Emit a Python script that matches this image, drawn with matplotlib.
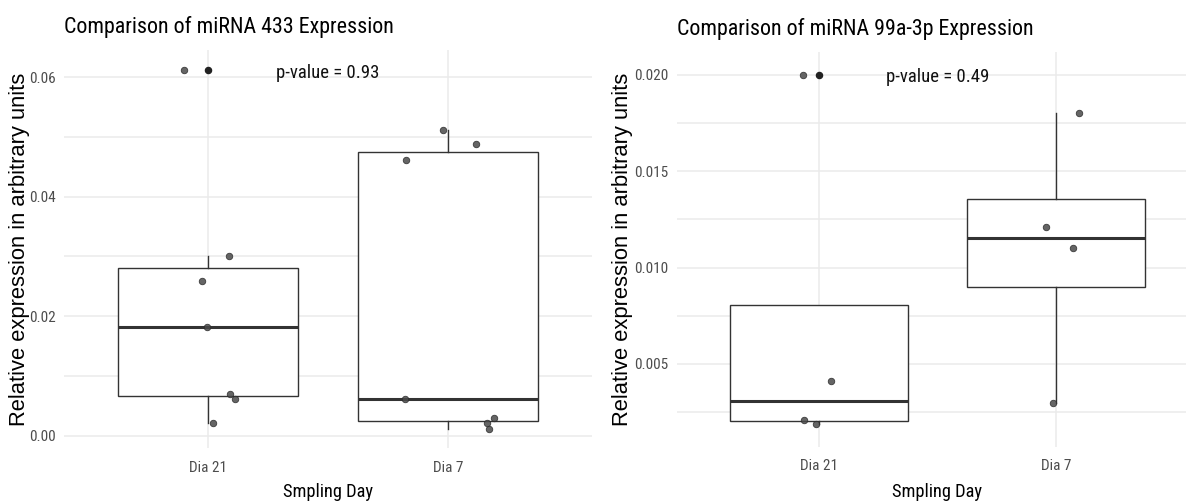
import numpy as np
import matplotlib
matplotlib.use("Agg")
import matplotlib.pyplot as plt
from matplotlib.ticker import MultipleLocator, FixedLocator

# data (box stats reconstructed from the hinges)
days = ["Dia 21", "Dia 7"]

mir433_d21 = [0.0022, 0.0062, 0.0070, 0.0182, 0.0259, 0.0301, 0.0612]
mir433_d7 = [0.0011, 0.0021, 0.0029, 0.0062, 0.0462, 0.0488, 0.0512]
mir99_d21 = [0.0019, 0.0021, 0.0041, 0.0200]
mir99_d7 = [0.0030, 0.0110, 0.0121, 0.0180]

# horizontal jitter of each point, same order as the values
jit433_d21 = [0.018, 0.11, 0.09, -0.005, -0.027, 0.086, -0.099]
jit433_d7 = [0.169, 0.163, 0.191, -0.179, -0.174, 0.118, -0.022]
jit99_d21 = [-0.013, -0.065, 0.052, -0.068]
jit99_d7 = [-0.013, 0.071, -0.041, 0.098]

titles = ["Comparison of miRNA 433 Expression", "Comparison of miRNA 99a-3p Expression"]
pvalues = ["p-value = 0.93", "p-value = 0.49"]

NARROW = ["Roboto Condensed", "Liberation Sans", "DejaVu Sans"]
REG = ["Liberation Sans", "DejaVu Sans"]

fig = plt.figure(figsize=(11.86, 5.03), dpi=100)
ax1 = fig.add_axes([0.0542, 0.1093, 0.4449, 0.7913])
ax2 = fig.add_axes([0.5707, 0.1119, 0.4394, 0.7853])


def panel(ax, groups, jitters, ylim, major, minor, fmt, title, ptext, py, labx, xlaby):
    ax.set_xlim(0.4, 2.6)
    ax.set_ylim(*ylim)
    ax.boxplot(groups, positions=[1, 2], widths=0.75, patch_artist=True,
               showcaps=False,
               boxprops=dict(facecolor="white", edgecolor="#333333", linewidth=1.0),
               whiskerprops=dict(color="#333333", linewidth=1.0),
               medianprops=dict(color="#333333", linewidth=2.2),
               flierprops=dict(marker="o", markersize=4.4, markerfacecolor="#222222",
                               markeredgecolor="#222222"),
               zorder=2)
    for i, (vals, jit) in enumerate(zip(groups, jitters)):
        ax.scatter(np.array(jit) + i + 1, vals, s=22, color="#4a4a4a",
                   alpha=0.85, edgecolors="#2a2a2a", linewidths=0.6, zorder=3)

    ax.yaxis.set_major_locator(MultipleLocator(major))
    ax.yaxis.set_minor_locator(MultipleLocator(minor))
    ax.xaxis.set_major_locator(FixedLocator([1, 2]))
    ax.set_xticklabels(days)
    ax.set_yticklabels([fmt % v for v in ax.get_yticks()])
    ax.grid(which="major", color="#ebebeb", linewidth=1.1, zorder=0)
    ax.grid(which="minor", axis="y", color="#ebebeb", linewidth=1.1, zorder=0)
    ax.set_axisbelow(True)
    for s in ax.spines.values():
        s.set_visible(False)
    ax.tick_params(length=0, which="both", labelsize=11, labelcolor="#4d4d4d")
    ax.tick_params(axis="y", pad=6.2)
    ax.tick_params(axis="x", pad=9)
    for lab in ax.get_xticklabels() + ax.get_yticklabels():
        lab.set_family(NARROW)

    ax.set_xlabel("Smpling Day", fontsize=13.2, family=NARROW)
    ax.xaxis.set_label_coords(0.5, xlaby)
    ax.set_ylabel("Relative expression in arbitrary units", fontsize=15.8,
                  family=REG)
    ax.yaxis.set_label_coords(labx, 0.5)
    ax.yaxis.label.set_verticalalignment("center")
    ax.set_title(title, fontsize=15.8, family=NARROW, loc="left", pad=12.2)
    ax.text(1.5, py, ptext, fontsize=13.5, family=NARROW, ha="center", va="center",
            color="#111111")


panel(ax1, [mir433_d21, mir433_d7], [jit433_d21, jit433_d7], (-0.00206, 0.06455),
      0.02, 0.01, "%.2f", titles[0], pvalues[0], 0.0607, -0.0855, -0.088)
panel(ax2, [mir99_d21, mir99_d7], [jit99_d21, jit99_d7], (0.00071, 0.02119),
      0.005, 0.0025, "%.3f", titles[1], pvalues[1], 0.01988, -0.1035, -0.092)

fig.savefig("out.png", dpi=100, facecolor="white")
